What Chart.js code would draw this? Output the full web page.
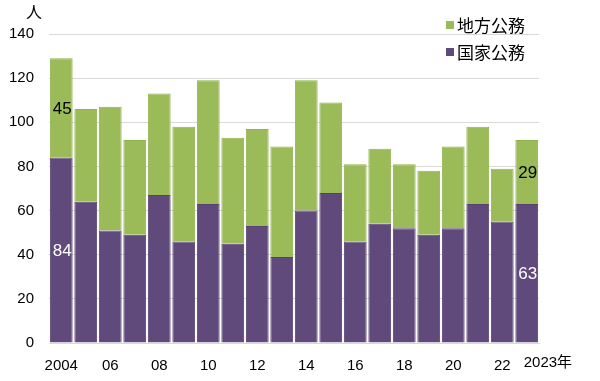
<!DOCTYPE html>
<html>
<head>
<meta charset="utf-8">
<script src="https://cdn.jsdelivr.net/npm/chart.js@4"></script>
<style>
  html, body { margin: 0; padding: 0; background: #fff; }
  #wrap { position: relative; width: 600px; height: 381px; font-family: "Liberation Sans", Arial, "Noto Sans CJK JP", sans-serif; }
  #legend { position: absolute; left: 446px; top: 11px; font-size: 17px; color: #000; font-family: "Noto Sans CJK JP", sans-serif; }
  #legend div { display: flex; align-items: center; height: 27px; }
  #legend span.box { width: 8px; height: 8px; margin-right: 3px; display: inline-block; }
  #unit { position: absolute; left: 26px; top: -1px; font-size: 16px; font-family: "Noto Sans CJK JP", sans-serif; }
</style>
</head>
<body>
<div id="wrap">
  <canvas id="c" width="600" height="381"></canvas>
  <div id="unit">人</div>
  <div id="legend"></div>
</div>
<script>
// years 2004..2023
const years = ['2004','2005','2006','2007','2008','2009','2010','2011','2012','2013',
               '2014','2015','2016','2017','2018','2019','2020','2021','2022','2023'];
const tickLabels = ['2004','','06','','08','','10','','12','','14','','16','','18','','20','','22',''];
const kokka = [84,64,51,49,67,46,63,45,53,39,60,68,46,54,52,49,52,63,55,63]; // 国家公務
const chiho = [45,42,56,43,46,52,56,48,44,50,59,41,35,34,29,29,37,35,24,29]; // 地方公務
const seriesNames = ['国家公務','地方公務'];
const colors = ['#604a7b','#9bbb59'];
const borders = ['#564170','#8fb44e'];
const lastLabel = '2023年';
// which bars get value labels
const labelIdx = [0, 19];

// value labels + the last x label
const extras = {
  id: 'extras',
  afterDatasetsDraw(chart) {
    const ctx = chart.ctx;
    ctx.save();
    ctx.font = '17px "Liberation Sans", Arial, sans-serif';
    ctx.textAlign = 'center';
    ctx.textBaseline = 'middle';
    chart.data.datasets.forEach((ds, di) => {
      const meta = chart.getDatasetMeta(di);
      labelIdx.forEach(i => {
        const bar = meta.data[i];
        const y = (bar.y + bar.base) / 2;
        ctx.fillStyle = di === 0 ? '#fff' : '#000';
        ctx.fillText(ds.data[i], bar.x + 1, y + 1);
      });
    });
    // 2023年 label, sits a little right of its bar
    const xs = chart.scales.x;
    ctx.fillStyle = '#000';
    ctx.font = '15px "Liberation Sans", "Noto Sans CJK JP", sans-serif';
    ctx.textAlign = 'left';
    ctx.fillText(lastLabel, xs.getPixelForValue(years.length - 1) - 3, 363);
    ctx.restore();
  }
};

const chart = new Chart(document.getElementById('c'), {
  type: 'bar',
  data: {
    labels: years,
    datasets: seriesNames.map((n, i) => ({
      label: n,
      data: i === 0 ? kokka : chiho,
      backgroundColor: colors[i],
      borderColor: borders[i],
      borderWidth: 1,
      barPercentage: 0.93,
      categoryPercentage: 1
    }))
  },
  options: {
    responsive: false,
    animation: false,
    layout: { padding: { top: 34, right: 61, left: 0, bottom: 4 } },
    plugins: { legend: { display: false }, tooltip: { enabled: false } },
    scales: {
      x: {
        stacked: true,
        afterFit: s => { s.height = 34; },
        grid: { display: false },
        border: { color: '#d9d9d9' },
        ticks: {
          color: '#000', font: { size: 15, family: '"Liberation Sans", Arial, sans-serif' },
          maxRotation: 0, autoSkip: false, padding: 6,
          callback: (v, i) => tickLabels[i]
        }
      },
      y: {
        stacked: true,
        min: 0, max: 140,
        afterFit: s => { s.width = 49; },
        grid: { color: '#d9d9d9', drawTicks: false },
        border: { display: false },
        ticks: { stepSize: 20, color: '#000', padding: 15, font: { size: 15, family: '"Liberation Sans", Arial, sans-serif' } }
      }
    }
  },
  plugins: [extras]
});

// legend: 地方公務 above 国家公務
const lg = document.getElementById('legend');
[1, 0].forEach(i => {
  const d = document.createElement('div');
  d.innerHTML = '<span class="box" style="background:' + colors[i] + '"></span>' + seriesNames[i];
  lg.appendChild(d);
});
</script>
</body>
</html>
